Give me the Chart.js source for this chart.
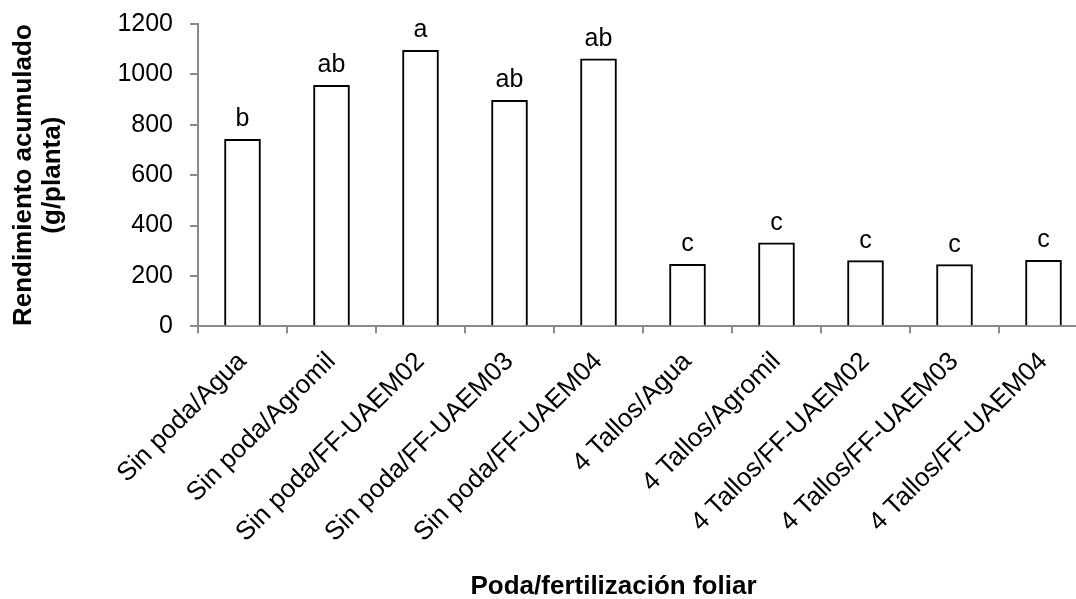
<!DOCTYPE html>
<html>
<head>
<meta charset="utf-8">
<script src="https://cdn.jsdelivr.net/npm/chart.js@4/dist/chart.umd.min.js"></script>
<style>
  html, body { margin: 0; padding: 0; background: #fff; overflow: hidden; }
  #wrap { width: 1240px; height: 599px; }
</style>
</head>
<body>
<div id="wrap"><canvas id="chart"></canvas></div>
<script>
// Rendimiento acumulado por tratamiento (poda / fertilización foliar)
const categories = [
  "Sin poda/Agua", "Sin poda/Agromil", "Sin poda/FF-UAEM02", "Sin poda/FF-UAEM03",
  "Sin poda/FF-UAEM04", "4 Tallos/Agua", "4 Tallos/Agromil", "4 Tallos/FF-UAEM02",
  "4 Tallos/FF-UAEM03", "4 Tallos/FF-UAEM04",
];
const yields = [742, 957, 1095, 897, 1062, 246, 331, 261, 245, 262];
const letters = ["b", "ab", "a", "ab", "ab", "c", "c", "c", "c", "c"];
const yTicks = [0, 200, 400, 600, 800, 1000, 1200];

const FONT = "'Liberation Sans', Arial, sans-serif";
const AXIS = "#898989";

Chart.defaults.font.family = FONT;
Chart.defaults.color = "#000";

// letters of the mean comparison test, above each bar
const letterPlugin = {
  id: "letters",
  afterDatasetsDraw(chart) {
    const g = chart.ctx;
    const meta = chart.getDatasetMeta(0);
    g.save();
    g.font = `25px ${FONT}`;
    g.fillStyle = "#000";
    g.textAlign = "center";
    g.textBaseline = "alphabetic";
    meta.data.forEach((bar, i) => g.fillText(letters[i], bar.x, bar.y - 13));
    g.restore();
  },
};

new Chart(document.getElementById("chart"), {
  type: "bar",
  data: {
    labels: categories,
    datasets: [{
      data: yields,
      backgroundColor: "#fff",
      borderColor: "#000",
      borderWidth: 2,
      barThickness: 36,
    }],
  },
  options: {
    responsive: true, maintainAspectRatio: false, animation: false,
    layout: { padding: { top: 24, right: 13, left: 0, bottom: 0 } },
    plugins: {
      legend: { display: false },
      tooltip: { enabled: false },
      title: {
        display: true, position: "bottom", text: "Poda/fertilización foliar",
        color: "#000", padding: 0,
        font: { size: 26, weight: "bold", lineHeight: 0.95 },
      },
    },
    scales: {
      x: {
        grid: { display: true, drawOnChartArea: false, offset: true, tickLength: 7,
          color: AXIS, lineWidth: 2 },
        border: { display: true, color: AXIS, width: 2 },
        ticks: { font: { size: 26 }, color: "#000", minRotation: 45, maxRotation: 45,
          padding: 13, autoSkip: false },
        afterFit: (s) => { s.height = 248; },
      },
      y: {
        min: 0, max: 1200,
        afterBuildTicks: (s) => { s.ticks = yTicks.map((v) => ({ value: v })); },
        grid: { display: true, drawOnChartArea: false, tickLength: 8, color: AXIS, lineWidth: 2 },
        border: { display: true, color: AXIS, width: 2 },
        // small lineHeight so the label padding does not push the plot top down
        ticks: { font: { size: 25, lineHeight: 0.5 }, color: "#000", padding: 17,
          callback: (v) => String(v) },
        title: {
          display: true, text: ["Rendimiento acumulado", "(g/planta)"],
          color: "#000", padding: { top: 9, bottom: 0 },
          font: { size: 26, weight: "bold", lineHeight: 1.12 },
        },
        afterFit: (s) => { s.width = 198; },
      },
      // empty right-hand box, keeps the plot edge and the centred title in place
      y2: {
        position: "right", display: true,
        grid: { display: false }, border: { display: false }, ticks: { display: false },
        afterFit: (s) => { s.width = 139; },
      },
    },
  },
  plugins: [letterPlugin],
});
</script>
</body>
</html>
